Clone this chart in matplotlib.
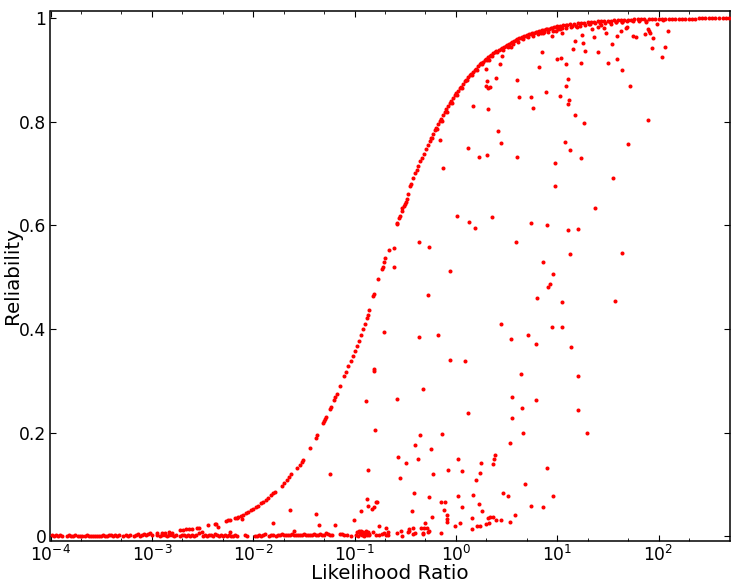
import numpy as np
import matplotlib
matplotlib.use("Agg")
import matplotlib.pyplot as plt

# main curve, log10(likelihood ratio) and reliability
curve_log = [-2.53, -2.445, -2.38, -2.37, -2.265, -2.25, -2.23, -2.18, -2.16, -2.15, -2.12, -2.10, -2.07, -2.05, -2.02,
             -2.00, -1.97, -1.95, -1.92, -1.90, -1.87, -1.85, -1.82, -1.80, -1.79, -1.72, -1.70, -1.67, -1.65, -1.63,
             -1.57, -1.54, -1.52, -1.51, -1.44, -1.38, -1.37, -1.31, -1.30, -1.29, -1.28, -1.245, -1.235, -1.20, -1.19,
             -1.17, -1.145, -1.10, -1.08, -1.06, -1.04, -1.02, -1.00, -0.98, -0.96, -0.94, -0.92, -0.90, -0.88, -0.87,
             -0.854, -0.822, -0.812, -0.769, -0.729, -0.723, -0.713, -0.697, -0.664, -0.585, -0.578, -0.558, -0.552,
             -0.535, -0.528, -0.515, -0.499, -0.493, -0.483, -0.477, -0.45, -0.44, -0.42, -0.40, -0.385, -0.37, -0.35,
             -0.335, -0.32, -0.30, -0.28, -0.26, -0.25, -0.23, -0.21, -0.20, -0.18, -0.16, -0.15, -0.13, -0.11, -0.10,
             -0.08, -0.06, -0.05, -0.03, -0.01, 0.00, 0.02, 0.04, 0.05, 0.07, 0.09, 0.10, 0.12, 0.14, 0.15, 0.17, 0.19,
             0.20, 0.22, 0.24, 0.25, 0.27, 0.29, 0.30, 0.32, 0.34, 0.35, 0.37, 0.39, 0.40, 0.42, 0.44, 0.45, 0.47, 0.49,
             0.50, 0.52, 0.54, 0.55, 0.57, 0.59, 0.60, 0.62, 0.64, 0.65, 0.67, 0.69, 0.70, 0.72, 0.74, 0.75, 0.77, 0.79,
             0.80, 0.82, 0.84, 0.85, 0.87, 0.89, 0.90, 0.92, 0.94, 0.95, 0.97, 0.99, 1.00, 1.03, 1.06, 1.10, 1.13, 1.16,
             1.20, 1.23, 1.26, 1.30, 1.33, 1.36, 1.40, 1.43, 1.46, 1.50, 1.53, 1.56, 1.60, 1.63, 1.66, 1.70, 1.73, 1.76,
             1.80, 1.83, 1.86, 1.90, 1.93, 1.96, 2.00, 2.03, 2.06, 2.10, 2.13, 2.16, 2.20, 2.23, 2.26, 2.30, 2.33, 2.36,
             2.40, 2.43, 2.46, 2.50, 2.53, 2.56, 2.60, 2.63, 2.66, 2.69]
curve_rel = [0.017, 0.021, 0.023, 0.024, 0.030, 0.031, 0.032, 0.035, 0.036, 0.037, 0.040, 0.042, 0.045, 0.047, 0.050,
             0.052, 0.056, 0.059, 0.064, 0.067, 0.070, 0.074, 0.080, 0.083, 0.085, 0.097, 0.102, 0.109, 0.114, 0.120,
             0.131, 0.138, 0.144, 0.147, 0.171, 0.189, 0.196, 0.218, 0.222, 0.226, 0.231, 0.245, 0.250, 0.263, 0.268,
             0.275, 0.290, 0.309, 0.318, 0.328, 0.338, 0.348, 0.357, 0.368, 0.378, 0.388, 0.400, 0.410, 0.421, 0.428,
             0.436, 0.463, 0.468, 0.497, 0.516, 0.520, 0.529, 0.537, 0.553, 0.602, 0.605, 0.614, 0.618, 0.628, 0.633,
             0.638, 0.642, 0.646, 0.652, 0.660, 0.676, 0.681, 0.692, 0.701, 0.708, 0.715, 0.724, 0.731, 0.738, 0.747,
             0.755, 0.763, 0.768, 0.776, 0.784, 0.788, 0.795, 0.802, 0.806, 0.813, 0.820, 0.824, 0.830, 0.836, 0.840,
             0.846, 0.851, 0.855, 0.860, 0.865, 0.868, 0.873, 0.878, 0.881, 0.886, 0.890, 0.893, 0.897, 0.900, 0.903,
             0.907, 0.911, 0.913, 0.916, 0.919, 0.921, 0.925, 0.927, 0.929, 0.932, 0.935, 0.937, 0.939, 0.941, 0.943,
             0.945, 0.947, 0.949, 0.951, 0.953, 0.954, 0.956, 0.958, 0.959, 0.961, 0.962, 0.963, 0.965, 0.966, 0.967,
             0.969, 0.970, 0.971, 0.972, 0.973, 0.974, 0.975, 0.976, 0.977, 0.978, 0.979, 0.979, 0.980, 0.981, 0.981,
             0.983, 0.984, 0.985, 0.986, 0.987, 0.987, 0.988, 0.989, 0.990, 0.990, 0.991, 0.992, 0.992, 0.993, 0.994,
             0.994, 0.995, 0.995, 0.995, 0.996, 0.996, 0.996, 0.997, 0.997, 0.997, 0.998, 0.998, 0.998, 0.998, 0.998,
             0.998, 0.998, 0.999, 0.999, 0.999, 0.999, 0.999, 0.999, 0.999, 0.999, 0.999, 0.999, 0.999, 0.999, 1.000,
             1.000, 1.000, 1.000, 1.000, 1.000, 1.000, 1.000, 1.000, 1.000]

# points just under the curve where it looks thick
thick_log = [-0.24, -0.19, -0.14, -0.09, -0.04, 0.01, 0.06, 0.11, 0.16, 0.21, 0.26, 0.31, 0.36, 0.41, 0.46, 0.51, 0.56,
             0.61, 0.66, 0.71, 0.76, 0.81, 0.86, 0.91, 0.96, 1.01, 1.05, 1.09, 1.14, 1.18, 1.22, 1.27, 1.32, 1.37, 1.42,
             1.47, 1.52, 1.58, 1.64, 1.69, 1.75, 1.81, 1.88]
thick_rel = [0.768, 0.786, 0.802, 0.820, 0.837, 0.852, 0.866, 0.880, 0.890, 0.901, 0.911, 0.919, 0.927, 0.935, 0.939,
             0.944, 0.950, 0.955, 0.959, 0.963, 0.966, 0.969, 0.972, 0.974, 0.976, 0.979, 0.981, 0.982, 0.984, 0.985,
             0.986, 0.987, 0.988, 0.990, 0.991, 0.991, 0.992, 0.993, 0.993, 0.994, 0.994, 0.995, 0.995]

# band of points lying near zero reliability
band_log = [-3.99, -3.97, -3.95, -3.93, -3.91, -3.89, -3.84, -3.82, -3.80, -3.78, -3.76, -3.73, -3.71, -3.69, -3.66,
            -3.64, -3.62, -3.60, -3.58, -3.56, -3.54, -3.52, -3.50, -3.48, -3.46, -3.44, -3.42, -3.40, -3.38, -3.36,
            -3.34, -3.32, -3.28, -3.26, -3.24, -3.22, -3.18, -3.16, -3.14, -3.12, -3.10, -3.08, -3.06, -3.04, -3.02,
            -3.00, -2.95, -2.92, -2.90, -2.87, -2.85, -2.83, -2.80, -2.78, -2.76, -2.72, -2.70, -2.68, -2.66, -2.64,
            -2.62, -2.60, -2.58, -2.56, -2.50, -2.48, -2.46, -2.44, -2.42, -2.40, -2.38, -2.36, -2.34, -2.32, -2.30,
            -2.28, -2.26, -2.24, -2.22, -2.20, -2.18, -2.16, -2.08, -2.06, -1.98, -1.96, -1.94, -1.92, -1.90, -1.88,
            -1.84, -1.82, -1.80, -1.78, -1.76, -1.74, -1.72, -1.70, -1.68, -1.66, -1.64, -1.62, -1.60, -1.58, -1.56,
            -1.54, -1.52, -1.50, -1.48, -1.46, -1.44, -1.42, -1.40, -1.38, -1.36, -1.34, -1.32, -1.30, -1.28, -1.26,
            -1.24, -1.22, -1.14, -1.12, -1.10, -1.07, -1.04, -0.99, -0.98, -0.97, -0.96, -0.95, -0.94, -0.93, -0.92,
            -0.91, -0.90, -0.89, -0.88, -0.87, -0.86]
band_rel = [0.002, 0.001, 0.002, 0.001, 0.002, 0.001, 0.001, 0.002, 0.001, 0.001, 0.002, 0.001, 0.000, 0.001, 0.001,
            0.002, 0.001, 0.000, 0.001, 0.001, 0.000, 0.001, 0.001, 0.002, 0.001, 0.001, 0.002, 0.003, 0.001, 0.002,
            0.001, 0.002, 0.001, 0.002, 0.001, 0.003, 0.001, 0.002, 0.004, 0.001, 0.003, 0.005, 0.002, 0.004, 0.006,
            0.003, 0.002, 0.001, 0.003, 0.002, 0.001, 0.003, 0.002, 0.001, 0.002, 0.001, 0.002, 0.003, 0.001, 0.002,
            0.001, 0.003, 0.001, 0.002, 0.001, 0.002, 0.001, 0.003, 0.002, 0.001, 0.004, 0.002, 0.001, 0.003, 0.001,
            0.002, 0.001, 0.002, 0.001, 0.001, 0.002, 0.001, 0.002, 0.001, 0.001, 0.001, 0.002, 0.001, 0.003, 0.004,
            0.001, 0.002, 0.002, 0.001, 0.003, 0.002, 0.004, 0.003, 0.002, 0.003, 0.002, 0.004, 0.003, 0.002, 0.003,
            0.002, 0.003, 0.004, 0.002, 0.003, 0.002, 0.003, 0.004, 0.003, 0.002, 0.005, 0.003, 0.002, 0.006, 0.004,
            0.003, 0.002, 0.005, 0.004, 0.003, 0.002, 0.001, 0.003, 0.008, 0.001, 0.010, 0.004, 0.011, 0.002, 0.008,
            0.001, 0.005, 0.011, 0.002, 0.009, 0.004]

# loose points under the curve
scatter_log = [-2.72, -2.69, -2.66, -2.63, -2.60, -2.55, -2.53, -2.51, -2.95, -2.90, -2.87, -2.83, -2.80, -2.35, -2.23,
               -2.11, -1.80, -1.64, -1.60, -1.38, -1.35, -1.245, -1.19, -1.01, -0.94, -0.885, -0.88, -0.865, -0.865,
               0.013, 0.128, 0.187, 0.351, 0.742, 0.900, 1.110, 1.208, 1.373, -0.361, -0.263, 0.594, -0.608, 1.126,
               1.642, 0.857, -0.608, -0.059, 0.956, 0.929, 0.906, -0.279, 0.798, 1.044, 1.570, 0.447, -0.706, 0.946,
               1.044, -0.361, -0.181, 0.709, 0.545, 0.791, 1.133, -0.059, 0.089, -0.805, -0.811, 0.644, 1.202, -0.322,
               -0.581, 0.555, 0.791, 0.653, 1.208, 0.115, 0.555, -0.801, -0.141, -0.355, 0.660, 1.290, 0.532, -0.404,
               -0.246, 0.381, 0.371, -0.575, -0.378, 0.023, -0.493, 0.243, 0.364, 0.900, -0.076, 0.062, -0.223, 0.236,
               -0.552, 0.194, 0.683, -0.411, 0.023, 0.171, 0.512, 0.463, 0.956, -0.263, -0.778, -0.792, -0.148, -0.109,
               0.226, 0.062, 0.742, 0.857, -0.808, -0.828, -0.115, 0.253, -0.434, -0.086, 0.578, -0.240, 0.154, 0.312,
               0.335, 0.368, 0.391, 0.440, -0.089, -0.089, 0.039, 0.532, -0.010, 0.295, 0.325, 0.203, 0.236, -0.306,
               -0.755, -0.690, -0.466, -0.420, -0.345, -0.312, -0.289, 0.154, -0.539, -0.460, -0.473, -0.263, -0.273,
               -0.667, -0.821, -0.706, -0.401, -0.420, -0.581, -0.148, -0.322, -0.322, -0.729, -0.755, -0.788, -0.667,
               -0.690, -0.532, -0.854,
               -0.125, -0.158, 0.121, 0.226, 0.308, 0.604, 0.417, 0.446, 0.167, 0.318, 0.620, 0.742, 0.758, 0.890,
               1.028, 1.120, 1.110, 1.175, 1.264, 1.077, 1.126, 1.231, 0.978, 0.978, 1.550, 1.698, 1.895, 1.717, 1.635,
               1.586, 1.501, 1.405, 1.274, 1.231, 1.258, 1.241, 1.175, 1.152, 1.087, 1.103, 1.087, 1.037, 0.995, 0.850,
               0.824, 0.604, 0.391, 0.302, 0.292, 0.335, 0.318, 0.292, 0.433, 0.456, 0.331, 0.545, 0.607, 0.946, 1.051,
               1.366, 1.478, 1.537, 1.592, 1.625, 1.675, 1.747, 1.780, 1.862, 1.917, 1.944, 1.937, 2.036, 2.065, 2.092,
               1.987, 2.042, 1.895, 1.904, 0.837, 0.870, 0.985, 1.028, 1.149, 1.198, 1.313, 1.346, 1.428, 1.461, 1.405,
               1.527, 1.576, 1.642, 1.684, 1.806, 1.872, 1.084]
scatter_rel = [0.012, 0.013, 0.014, 0.014, 0.015, 0.016, 0.007, 0.009, 0.006, 0.006, 0.007, 0.008, 0.006, 0.018, 0.009,
               0.033, 0.025, 0.051, 0.011, 0.044, 0.021, 0.120, 0.021, 0.032, 0.049, 0.261, 0.073, 0.128, 0.059,
               0.619, 0.606, 0.596, 0.617, 0.604, 0.601, 0.591, 0.593, 0.633, 0.568, 0.558, 0.569, 0.556, 0.545,
               0.547, 0.529, 0.519, 0.513, 0.506, 0.487, 0.481, 0.465, 0.461, 0.452, 0.455, 0.409, 0.394, 0.404,
               0.404, 0.385, 0.388, 0.388, 0.380, 0.372, 0.365, 0.340, 0.338, 0.323, 0.319, 0.314, 0.309, 0.284,
               0.266, 0.268, 0.264, 0.248, 0.244, 0.239, 0.229, 0.206, 0.197, 0.196, 0.199, 0.199, 0.181, 0.176,
               0.168, 0.157, 0.150, 0.154, 0.150, 0.150, 0.142, 0.141, 0.139, 0.131, 0.129, 0.127, 0.120, 0.122,
               0.112, 0.109, 0.101, 0.084, 0.078, 0.080, 0.078, 0.084, 0.077, 0.075, 0.067, 0.067, 0.066, 0.066,
               0.062, 0.057, 0.059, 0.057, 0.056, 0.053, 0.051, 0.048, 0.048, 0.042, 0.041, 0.037, 0.035, 0.035,
               0.037, 0.037, 0.032, 0.032, 0.033, 0.027, 0.025, 0.027, 0.020, 0.023, 0.025, 0.020, 0.020, 0.026,
               0.019, 0.017, 0.015, 0.017, 0.017, 0.017, 0.017, 0.014, 0.011, 0.011, 0.008, 0.011, 0.008,
               0.009, 0.009, 0.007, 0.006, 0.004, 0.006, 0.006, 0.006, 0.004, 0.004, 0.002, 0.002, 0.002,
               0.002, 0.001, 0.002,
               0.710, 0.765, 0.750, 0.733, 0.737, 0.733, 0.782, 0.760, 0.831, 0.824, 0.848, 0.848, 0.827, 0.858,
               0.850, 0.842, 0.834, 0.813, 0.797, 0.762, 0.746, 0.731, 0.721, 0.677, 0.691, 0.757, 0.803, 0.869, 0.900,
               0.922, 0.914, 0.935, 0.937, 0.914, 0.953, 0.967, 0.956, 0.941, 0.912, 0.883, 0.869, 0.924, 0.922, 0.934,
               0.905, 0.881, 0.885, 0.878, 0.869, 0.867, 0.866, 0.903, 0.912, 0.927, 0.919, 0.945, 0.958, 0.966, 0.971,
               0.963, 0.972, 0.950, 0.966, 0.975, 0.981, 0.965, 0.963, 0.969, 0.971, 0.961, 0.943, 0.925, 0.945, 0.975,
               0.988, 0.997, 0.979, 0.976, 0.971, 0.973, 0.975, 0.979, 0.986, 0.984, 0.989, 0.979, 0.987, 0.981, 0.983,
               0.988, 0.992, 0.992, 0.984, 0.997, 0.993, 0.987]

x_ticks = [1e-4, 1e-3, 1e-2, 1e-1, 1e0, 1e1, 1e2]
y_ticks = [0, 0.2, 0.4, 0.6, 0.8, 1]
y_tick_labels = ['0', '0.2', '0.4', '0.6', '0.8', '1']

fig = plt.figure(figsize=(7.47, 5.84), dpi=100)
ax = fig.add_axes([50.5/747, 1 - 541/584, (729.5 - 50.5)/747, (541 - 11)/584])

for lr_log, rel in [(curve_log, curve_rel), (thick_log, thick_rel), (band_log, band_rel), (scatter_log, scatter_rel)]:
    ax.scatter(10.0**np.array(lr_log), rel, s=8.5, c='#ff0000', linewidths=0, zorder=3)

ax.set_xscale('log')
ax.set_xlim(1e-4, 500)
ax.set_ylim(-0.009, 1.014)
ax.set_xticks(x_ticks)
ax.set_xticks([m*10.0**e for e in range(-4, 3) for m in (2, 5) if m*10.0**e < 500], minor=True)
ax.set_xticklabels([], minor=True)
ax.set_yticks(y_ticks)
ax.set_yticklabels(y_tick_labels)
ax.tick_params(which='major', direction='in', top=True, right=True, length=4.5, width=0.8, labelsize=12.3, pad=3)
ax.tick_params(which='minor', direction='in', top=True, right=True, length=2.2, width=0.6)
ax.set_xlabel('Likelihood Ratio', fontsize=14.3, labelpad=-0.8)
ax.set_ylabel('Reliability', fontsize=14.3, labelpad=-2)
for spine in ax.spines.values():
    spine.set_linewidth(1.1)

fig.savefig('out.png', dpi=100)
